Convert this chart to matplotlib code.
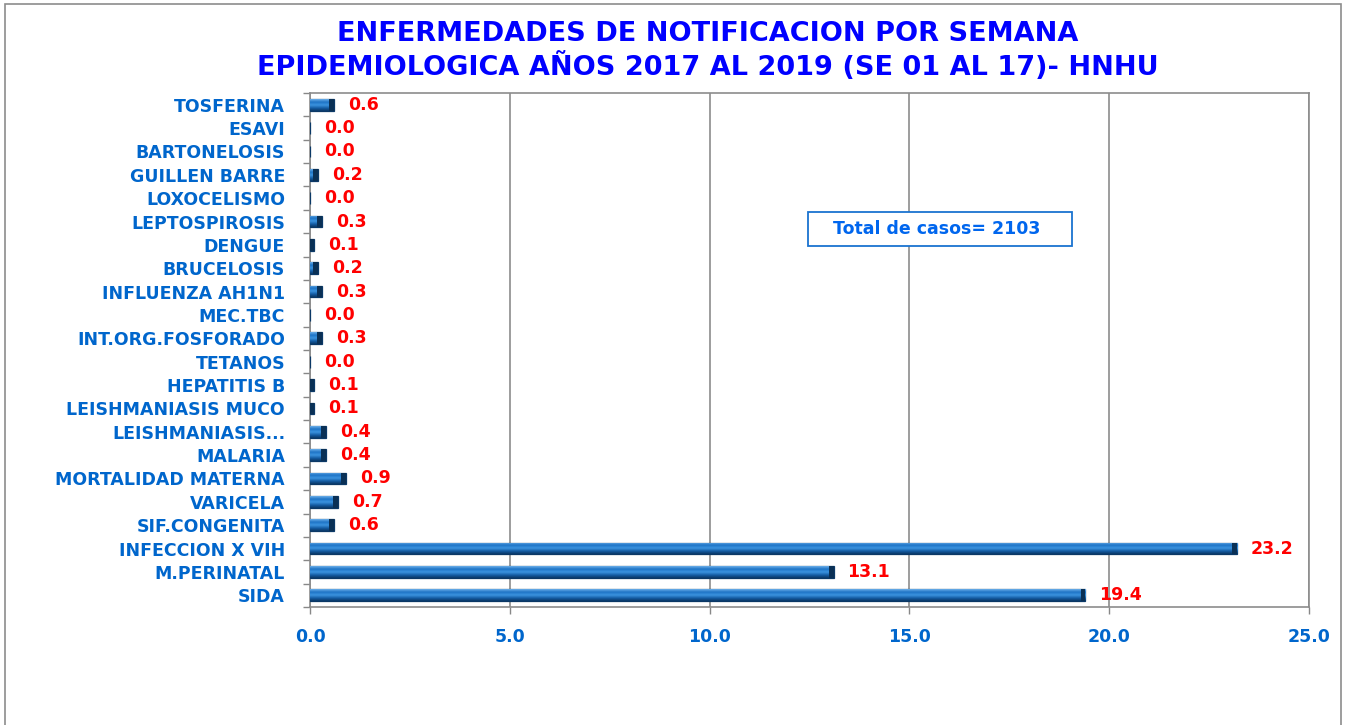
import numpy as np
import matplotlib
matplotlib.use("Agg")
from matplotlib import pyplot as plt
from matplotlib.colors import LinearSegmentedColormap
from matplotlib.patches import Rectangle

# data, bottom -> top as drawn
categories = [
    "SIDA", "M.PERINATAL", "INFECCION X VIH", "SIF.CONGENITA", "VARICELA",
    "MORTALIDAD MATERNA", "MALARIA", "LEISHMANIASIS...", "LEISHMANIASIS MUCO",
    "HEPATITIS B", "TETANOS", "INT.ORG.FOSFORADO", "MEC.TBC", "INFLUENZA AH1N1",
    "BRUCELOSIS", "DENGUE", "LEPTOSPIROSIS", "LOXOCELISMO", "GUILLEN BARRE",
    "BARTONELOSIS", "ESAVI", "TOSFERINA",
]
values = [19.4, 13.1, 23.2, 0.6, 0.7, 0.9, 0.4, 0.4, 0.1, 0.1, 0.0,
          0.3, 0.0, 0.3, 0.2, 0.1, 0.3, 0.0, 0.2, 0.0, 0.0, 0.6]
x_ticks = [0, 5, 10, 15, 20, 25]
total_text = "Total de casos= 2103"
title = ("ENFERMEDADES DE NOTIFICACION POR SEMANA\n"
         "EPIDEMIOLOGICA AÑOS 2017 AL 2019 (SE 01 AL 17)- HNHU")

LABEL_BLUE = "#0066CC"
TITLE_BLUE = "#0000FF"

plt.rcParams["font.family"] = ["DejaVu Sans"]

fig = plt.figure(figsize=(13.51, 7.25), dpi=100)
ax = fig.add_axes([0.2295, 0.1628, 0.7395, 0.7089])

# outer frame of the chart area
fig.patches.append(Rectangle((5 / 1351, -0.05), 1336 / 1351, 1.05 - 4 / 725,
                             transform=fig.transFigure, fill=False,
                             edgecolor="#8c8c8c", linewidth=1.2))

y = np.arange(len(categories))
bars = ax.barh(y, values, height=0.5, color="#1c72c4",
               edgecolor="#0b3866", linewidth=0.9, zorder=3)

# 3d-ish cylinder shading on each bar
shade = LinearSegmentedColormap.from_list(
    "shade", ["#0a3866", "#155ea6", "#3b93df", "#1f74c6", "#6aaee8"])
grad = np.linspace(0, 1, 64).reshape(-1, 1)
for b in bars:
    w = b.get_width()
    if w <= 0:
        continue
    x0, y0 = b.get_x(), b.get_y()
    h = b.get_height()
    im = ax.imshow(grad, cmap=shade, aspect="auto", origin="lower",
                   extent=(x0, x0 + w, y0, y0 + h), zorder=3.5)
    im.set_clip_path(b)
    # dark end cap
    cap = min(w, 0.12)
    ax.add_patch(Rectangle((x0 + w - cap, y0), cap, h, facecolor="#0a3055",
                           edgecolor="none", zorder=4))

for yi, v in zip(y, values):
    ax.annotate(f"{v:.1f}", (v, yi), xytext=(10, 0), textcoords="offset points",
                va="center", ha="left", color="red", fontsize=12.5,
                fontweight="bold", zorder=5)

ax.set_xlim(0, 25)
ax.set_ylim(-0.5, len(categories) - 0.5)
ax.set_xticks(x_ticks)
ax.set_xticklabels([f"{t:.1f}" for t in x_ticks])
ax.set_yticks(y)
ax.set_yticklabels(categories)
ax.set_yticks(np.arange(-0.5, len(categories), 1), minor=True)

ax.tick_params(axis="y", which="major", length=0, pad=18,
               labelsize=12.5, labelcolor=LABEL_BLUE)
ax.tick_params(axis="y", which="minor", length=5, color="#888888", width=1)
ax.tick_params(axis="x", which="major", length=5, color="#888888", width=1,
               pad=10, labelsize=12.5, labelcolor=LABEL_BLUE)
for lab in ax.get_yticklabels() + ax.get_xticklabels():
    lab.set_fontweight("bold")

ax.grid(True, axis="x", color="#8c8c8c", linewidth=1.2, zorder=0)
ax.set_axisbelow(True)
for s in ax.spines.values():
    s.set_color("#8c8c8c")
    s.set_linewidth(1.2)

# total box
ax.add_patch(Rectangle((0.4985, 0.702), 0.2645, 0.066, transform=ax.transAxes,
                       facecolor="white", edgecolor="#1a73d0", linewidth=1.3,
                       zorder=6))
ax.text(0.627, 0.735, total_text, transform=ax.transAxes, ha="center",
        va="center", color="#0066EE", fontsize=12.5, fontweight="bold",
        zorder=7)

fig.text(0.524, 0.93, title, ha="center", va="center", color=TITLE_BLUE,
         fontsize=19.5, fontweight="bold", linespacing=1.2)

fig.savefig("out.png", dpi=100, facecolor="white")
